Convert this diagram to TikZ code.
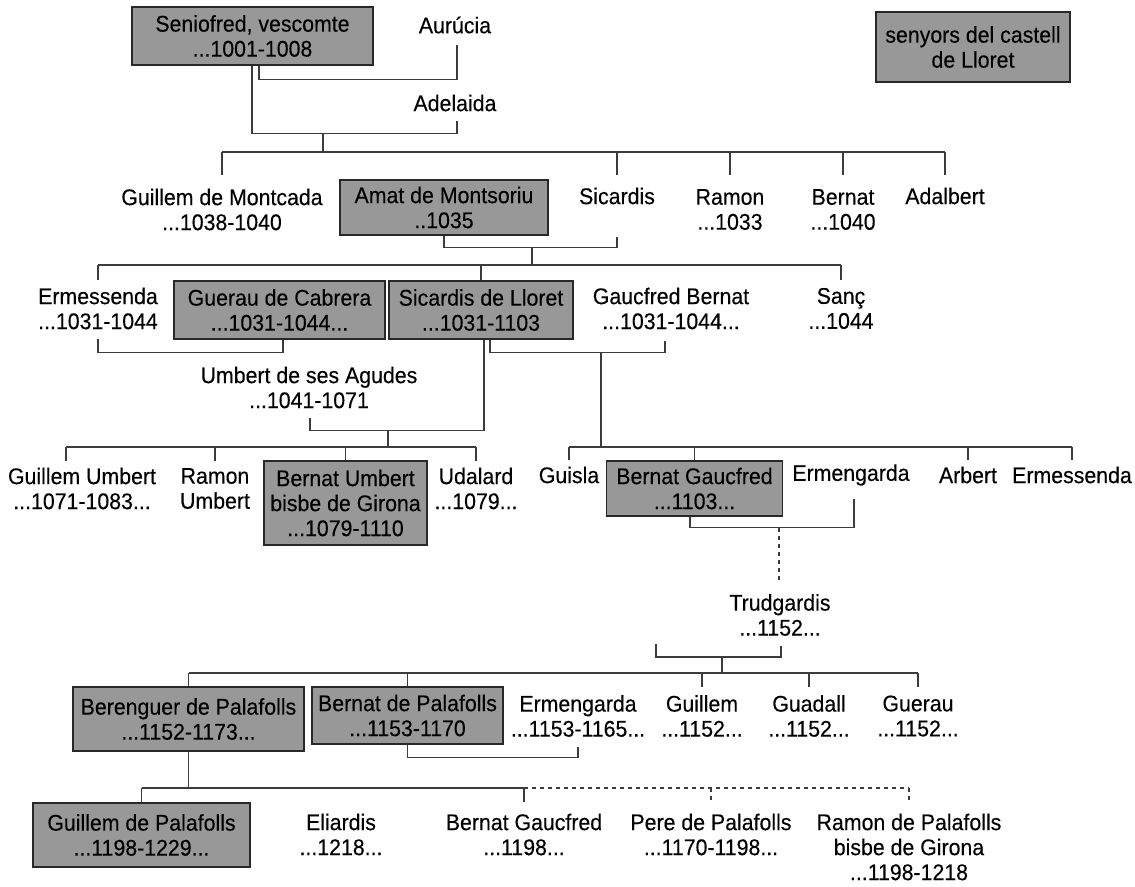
\documentclass[tikz,border=0pt]{standalone}
\usepackage{fontspec}
\setmainfont{Liberation Sans}[FakeStretch=0.94,FakeBold=0.25]
\definecolor{boxfill}{RGB}{152,152,152}
\definecolor{boxline}{RGB}{40,40,40}
\definecolor{linkc}{RGB}{60,60,60}
\begin{document}
\begin{tikzpicture}[x=0.75pt,y=-0.75pt,
  lbl/.style={align=center,inner sep=0pt,font=\fontsize{17}{18.75}\selectfont},
  pbox/.style 2 args={lbl,draw=boxline,fill=boxfill,line width=1.1pt,minimum width=#1*0.75pt,minimum height=#2*0.75pt},
  link/.style={draw=linkc,line width=1.1pt},
  dlink/.style={link,dash pattern=on 3pt off 3pt}]
\useasboundingbox (0,0) rectangle (1135,886);

% generation 0
\node[pbox={241}{58}] (sen) at (252.5,36) {Seniofred, vescomte\\...1001-1008};
\node[lbl] (aur) at (455,25) {Aurúcia};
\node[lbl] (ade) at (455,103) {Adelaida};
\node[pbox={194}{70}] (leg) at (973,47) {senyors del castell\\de Lloret};

% generation 1
\node[lbl] (gmo) at (222,209.5) {Guillem de Montcada\\...1038-1040};
\node[pbox={208}{55}] (ama) at (444,207.5) {Amat de Montsoriu\\..1035};
\node[lbl] (sic) at (617,196) {Sicardis};
\node[lbl] (ram) at (730,209.5) {Ramon\\...1033};
\node[lbl] (ber) at (843,209.5) {Bernat\\...1040};
\node[lbl] (ada) at (945,196) {Adalbert};

% generation 2
\node[lbl] (erm) at (98,308.5) {Ermessenda\\...1031-1044};
\node[pbox={211}{58}] (gue) at (279.5,310) {Guerau de Cabrera\\...1031-1044...};
\node[pbox={184}{58}] (sll) at (481,310) {Sicardis de Lloret\\...1031-1103};
\node[lbl] (gbe) at (671,308.5) {Gaucfred Bernat\\...1031-1044...};
\node[lbl] (san) at (841,308.5) {Sanç\\...1044};
\node[lbl] (umb) at (309,387.5) {Umbert de ses Agudes\\...1041-1071};

% generation 3
\node[lbl] (gum) at (82,488.5) {Guillem Umbert\\...1071-1083...};
\node[lbl] (rum) at (215,488.5) {Ramon\\Umbert};
\node[pbox={163}{84}] (bum) at (345.5,503) {Bernat Umbert\\bisbe de Girona\\...1079-1110};
\node[lbl] (uda) at (476,488.5) {Udalard\\...1079...};
\node[lbl] (gui) at (569,475) {Guisla};
\node[pbox={176}{55}] (bga) at (694.5,488.5) {Bernat Gaucfred\\...1103...};
\node[lbl] (emg) at (851,475) {Ermengarda};
\node[lbl] (arb) at (968,475) {Arbert};
\node[lbl] (ems) at (1072,475) {Ermessenda};

\node[lbl] (tru) at (780,615) {Trudgardis\\...1152...};

% generation 4
\node[pbox={231}{64}] (bpa) at (188.5,719) {Berenguer de Palafolls\\...1152-1173...};
\node[pbox={191}{57}] (bdp) at (407.5,715.5) {Bernat de Palafolls\\...1153-1170};
\node[lbl] (emh) at (578,716) {Ermengarda\\...1153-1165...};
\node[lbl] (gul) at (702,716) {Guillem\\...1152...};
\node[lbl] (gua) at (809,716) {Guadall\\...1152...};
\node[lbl] (ger) at (918,716) {Guerau\\...1152...};

% generation 5
\node[pbox={217}{64}] (gpa) at (141.5,835) {Guillem de Palafolls\\...1198-1229...};
\node[lbl] (eli) at (341,834.5) {Eliardis\\...1218...};
\node[lbl] (bgf) at (524,834.5) {Bernat Gaucfred\\...1198...};
\node[lbl] (ppa) at (711,834.5) {Pere de Palafolls\\...1170-1198...};
\node[lbl] (rpa) at (909,847) {Ramon de Palafolls\\bisbe de Girona\\...1198-1218};

% bus coordinates
\coordinate (b1) at (323,152);
\coordinate (b2) at (532,265);
\coordinate (b3l) at (388,447);
\coordinate (b3r) at (601,447);
\coordinate (b4) at (722,673);
\coordinate (b5) at (191,788);
\coordinate (dgum) at (66,461);

% generation 0 links
\draw[link] ([shift={(6.5,0)}]sen.south) -- ++(0,14) -| ([shift={(2,20)}]aur.center);
\draw[link] ([shift={(-0.5,0)}]sen.south) -- ++(0,68) -| ([shift={(2,18)}]ade.center);
\draw[link] (b1) -- ++(0,-19);
\draw[link] (gmo |- b1) -- (ada |- b1);
\foreach \n in {gmo,sic,ram,ber,ada} \draw[link] (\n |- b1) -- ++(0,23);

% generation 1 links
\draw[link] (ama.south) -- ++(0,12) -| ([shift={(0,41)}]sic.center);
\draw[link] (b2) -- ++(0,-18);
\draw[link] (erm |- b2) -- (san |- b2);
\foreach \n in {erm,san} \draw[link] (\n |- b2) -- ++(0,15);
\draw[link] (sll.north |- b2) -- (sll.north);

% generation 2 links
\draw[link] ([shift={(0,30)}]erm.center) -- ++(0,14) -| ([shift={(3.5,0)}]gue.south);
\draw[link] ([shift={(9,0)}]sll.south) -- ++(0,13) -| ([shift={(-6,32)}]gbe.center);
\draw[link] (b3r) -- ++(0,-95);
\draw[link] ([shift={(3,0)}]sll.south) -- ++(0,91) -| ([shift={(1,30)}]umb.center);
\draw[link] (b3l) -- ++(0,-17);
\draw[link] (dgum |- b3l) -- (uda |- b3l);
\draw[link] (dgum |- b3l) -- (dgum);
\foreach \n in {rum,uda} \draw[link] (\n |- b3l) -- ++(0,14);
\draw[link] (bum.north |- b3l) -- (bum.north);
\draw[link] (gui |- b3r) -- (ems |- b3r);
\foreach \n in {gui,arb,ems} \draw[link] (\n |- b3r) -- ++(0,13);
\draw[link] (bga.north |- b3r) -- (bga.north);

% generation 3 links
\draw[link] ([shift={(-4.5,0)}]bga.south) -- ++(0,11) -| ([shift={(3,24)}]emg.center);
\draw[dlink] ([shift={(84.5,11)}]bga.south) -- ([shift={(-1,-35)}]tru.center);
\draw[link] ([shift={(1,31)}]tru.center) -- ++(0,11) -| ++(-125,-13);
\draw[link] (b4) -- ++(0,-16);
\draw[link] (bpa.north |- b4) -- (ger |- b4);
\draw[link] (bpa.north |- b4) -- (bpa.north);
\draw[link] (bdp.north |- b4) -- (bdp.north);
\foreach \n in {gul,gua,ger} \draw[link] (\n |- b4) -- ++(0,14);

% generation 4 links
\draw[link] (bdp.south) -- ++(0,13) -| ([shift={(0,31)}]emh.center);
\draw[link] (bpa.south) -- (bpa.south |- b5);
\draw[link] (gpa.north |- b5) -- (bgf |- b5);
\draw[link] (gpa.north |- b5) -- (gpa.north);
\draw[link] (bgf |- b5) -- ++(0,14);
\draw[dlink] (bgf |- b5) -- (rpa |- b5);
\foreach \n in {ppa,rpa} \draw[dlink] (\n |- b5) -- ++(0,14);
\end{tikzpicture}
\end{document}
